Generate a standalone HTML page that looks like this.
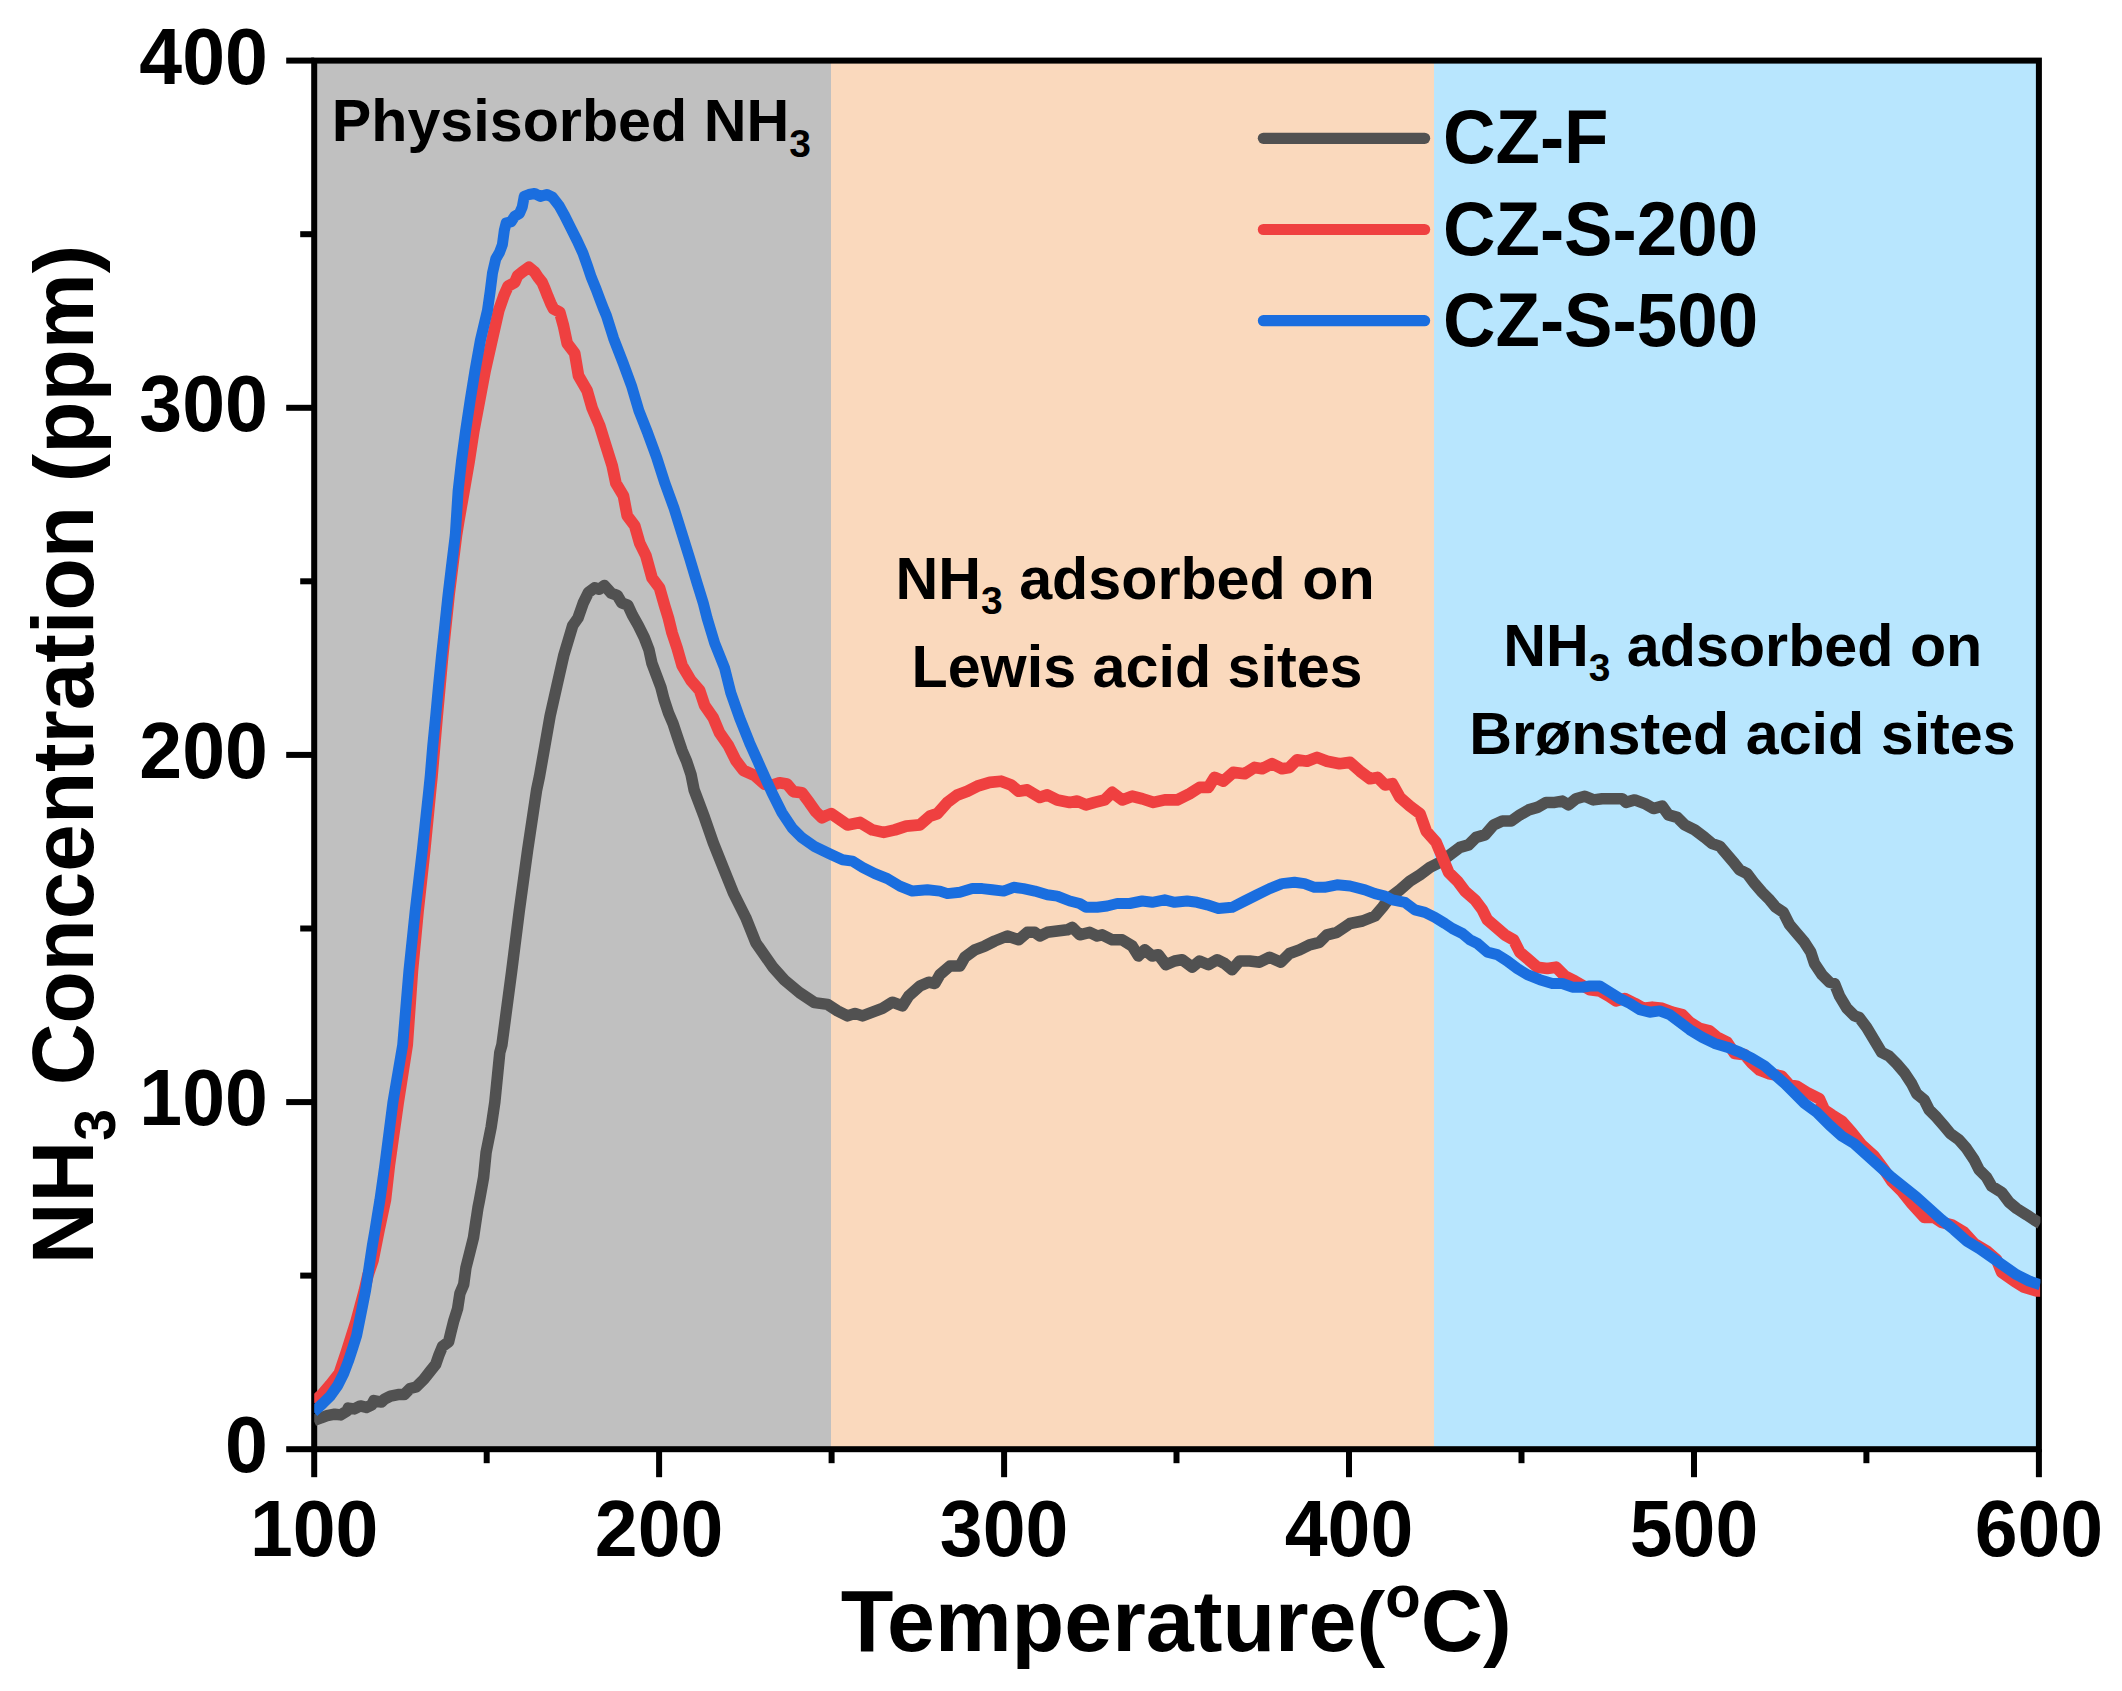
<!DOCTYPE html>
<html lang="en">
<head>
<meta charset="utf-8">
<title>NH3-TPD profiles</title>
<style>
html,body{margin:0;padding:0;background:#fff;}
body{width:2122px;height:1691px;overflow:hidden;}
svg{display:block;}
text{font-family:"Liberation Sans", sans-serif;font-weight:bold;fill:#000;}
.tick{font-size:77px;}
.title{font-size:86.2px;}
.leg{font-size:72.7px;}
.ann{font-size:59.25px;}
</style>
</head>
<body>
<svg width="2122" height="1691" viewBox="0 0 2122 1691">
<rect x="0" y="0" width="2122" height="1691" fill="#ffffff"/>
<defs><clipPath id="plot"><rect x="314.2" y="60.6" width="1726.2" height="1388.6"/></clipPath></defs>

<rect x="314.2" y="60.6" width="516.8" height="1388.6" fill="#c0c0c0"/>
<rect x="831.0" y="60.6" width="603.0" height="1388.6" fill="#fad9bd"/>
<rect x="1434.0" y="60.6" width="604.9" height="1388.6" fill="#b8e6fe"/>
<g stroke="#000" stroke-width="6" fill="none" stroke-linecap="butt">
<rect x="314.2" y="60.6" width="1724.7" height="1388.6"/>
<line x1="314.2" y1="1449.2" x2="314.2" y2="1477.2"/>
<line x1="486.7" y1="1449.2" x2="486.7" y2="1463.2"/>
<line x1="659.1" y1="1449.2" x2="659.1" y2="1477.2"/>
<line x1="831.6" y1="1449.2" x2="831.6" y2="1463.2"/>
<line x1="1004.1" y1="1449.2" x2="1004.1" y2="1477.2"/>
<line x1="1176.5" y1="1449.2" x2="1176.5" y2="1463.2"/>
<line x1="1349.0" y1="1449.2" x2="1349.0" y2="1477.2"/>
<line x1="1521.5" y1="1449.2" x2="1521.5" y2="1463.2"/>
<line x1="1694.0" y1="1449.2" x2="1694.0" y2="1477.2"/>
<line x1="1866.4" y1="1449.2" x2="1866.4" y2="1463.2"/>
<line x1="2038.9" y1="1449.2" x2="2038.9" y2="1477.2"/>
<line x1="314.2" y1="1449.2" x2="286.2" y2="1449.2"/>
<line x1="314.2" y1="1275.6" x2="300.2" y2="1275.6"/>
<line x1="314.2" y1="1102.1" x2="286.2" y2="1102.1"/>
<line x1="314.2" y1="928.5" x2="300.2" y2="928.5"/>
<line x1="314.2" y1="754.9" x2="286.2" y2="754.9"/>
<line x1="314.2" y1="581.3" x2="300.2" y2="581.3"/>
<line x1="314.2" y1="407.8" x2="286.2" y2="407.8"/>
<line x1="314.2" y1="234.2" x2="300.2" y2="234.2"/>
<line x1="314.2" y1="60.6" x2="286.2" y2="60.6"/>
</g>
<g clip-path="url(#plot)" fill="none" stroke-linejoin="round" stroke-linecap="butt">
<polyline points="313.5,1420.6 314.3,1420.2 321.1,1417.9 327.1,1415.7 334.7,1414.2 340.7,1414.9 346.8,1411.2 348.3,1408.1 354.3,1408.9 360.3,1405.9 366.4,1407.4 371.6,1405.1 373.9,1400.6 381.4,1402.1 384.5,1399.1 390.5,1396.1 398.0,1394.6 404.1,1394.6 410.1,1388.5 416.1,1387.0 423.7,1379.5 429.7,1371.9 435.7,1364.4 438.8,1355.4 442.5,1346.3 448.6,1341.8 450.8,1332.7 453.8,1320.7 457.6,1308.6 459.9,1293.5 463.7,1284.5 465.9,1267.9 469.7,1252.8 473.5,1237.7 475.7,1222.6 478.0,1207.5 479.5,1200.0 483.6,1177.4 486.1,1152.4 491.1,1127.4 494.8,1102.4 497.3,1077.5 499.8,1052.5 501.9,1044.9 511.7,971.0 519.3,910.7 527.6,850.3 536.6,790.0 539.5,776.3 544.8,746.2 550.1,716.0 556.9,685.8 563.7,655.7 568.2,640.6 572.7,625.5 578.0,618.0 583.3,602.9 588.5,592.3 594.6,587.8 599.1,589.3 604.4,585.5 611.2,593.1 617.2,595.3 621.7,602.9 627.8,605.1 632.3,614.9 638.3,625.5 644.3,637.6 648.9,649.6 651.9,663.2 656.4,675.3 660.9,687.3 664.0,699.4 668.5,713.0 673.0,723.5 677.5,737.1 682.1,750.7 686.6,761.2 691.1,774.8 694.1,789.9 704.6,817.8 713.3,842.8 723.3,867.8 733.3,892.7 745.8,917.7 755.8,942.7 773.3,967.7 784.5,980.1 799.5,992.6 814.5,1002.6 827.5,1004.4 837.5,1010.9 847.5,1015.9 855.0,1013.4 862.5,1015.9 872.4,1012.2 882.4,1008.4 892.4,1002.2 902.4,1005.9 908.7,996.0 919.9,986.0 928.6,982.2 934.9,983.5 939.9,974.7 949.9,966.0 959.9,966.0 964.9,957.2 974.8,949.8 984.8,946.0 994.8,941.0 1007.3,936.0 1018.6,939.8 1027.3,932.3 1034.8,932.3 1039.8,936.0 1047.3,932.3 1057.3,931.0 1067.3,929.8 1072.2,927.3 1079.7,934.8 1089.7,932.3 1097.2,936.0 1102.2,934.8 1112.2,939.8 1122.2,939.8 1132.2,946.0 1138.4,956.0 1144.7,949.8 1152.2,956.0 1158.4,954.7 1165.9,964.7 1174.6,961.0 1182.1,959.7 1192.1,967.2 1199.6,961.0 1208.4,964.7 1217.1,959.7 1224.6,963.5 1232.1,969.7 1239.6,961.0 1249.6,961.0 1259.6,962.2 1269.6,957.2 1280.8,962.2 1289.5,953.5 1299.5,949.8 1309.5,944.8 1319.5,942.3 1327.0,934.8 1337.0,932.3 1344.5,927.3 1350.0,923.5 1362.5,921.0 1375.0,916.0 1382.5,907.3 1390.0,897.3 1399.9,889.8 1409.9,881.1 1419.9,874.8 1429.9,867.3 1439.9,862.3 1449.9,854.8 1459.9,847.4 1468.6,844.9 1476.1,837.4 1484.9,834.9 1493.6,824.9 1502.3,821.1 1511.1,821.1 1519.8,814.9 1528.6,809.9 1537.3,807.4 1546.0,802.4 1554.8,802.4 1562.3,801.1 1568.5,804.9 1576.0,798.7 1584.8,796.2 1593.5,799.9 1602.2,798.7 1612.2,798.7 1622.2,798.7 1626.0,802.4 1634.7,799.9 1644.7,803.6 1653.4,808.6 1662.2,806.1 1668.4,814.9 1677.2,817.4 1684.7,824.9 1694.7,829.9 1704.6,837.4 1712.1,843.6 1719.6,846.1 1727.1,854.8 1734.6,863.6 1739.6,869.8 1747.1,873.6 1754.6,883.6 1762.1,892.3 1769.6,899.8 1775.8,907.3 1783.3,912.3 1789.6,924.8 1797.0,933.5 1804.5,942.3 1810.8,952.2 1814.5,963.5 1822.0,974.7 1829.5,982.2 1834.5,983.5 1839.5,996.0 1847.0,1008.4 1854.5,1015.9 1859.2,1017.5 1866.7,1027.5 1874.2,1040.0 1881.7,1052.4 1889.2,1056.2 1896.7,1063.7 1904.2,1072.4 1911.7,1083.7 1916.7,1093.7 1924.2,1099.9 1929.2,1109.9 1936.7,1117.4 1944.1,1126.1 1950.4,1133.6 1959.1,1139.9 1966.6,1148.6 1974.1,1159.8 1979.1,1169.8 1986.6,1177.3 1991.6,1186.1 2001.6,1192.3 2009.1,1202.3 2016.6,1208.5 2026.6,1214.8 2034.1,1219.8 2040.3,1223.5" stroke="#515151" stroke-width="11.5"/>
<polyline points="313.5,1402.5 314.3,1401.4 322.6,1393.8 330.2,1384.8 339.2,1373.5 346.8,1350.8 356.3,1320.7 364.4,1290.5 367.9,1275.4 373.0,1260.3 379.0,1230.2 385.4,1200.0 389.4,1164.9 398.2,1102.4 407.2,1044.9 412.4,971.0 418.1,910.7 424.7,850.3 430.6,790.0 432.0,776.3 437.2,716.0 442.7,655.7 449.0,595.3 456.5,535.0 458.7,521.3 464.0,491.2 469.2,461.0 473.8,430.8 479.5,400.7 485.2,370.5 492.0,340.3 498.8,310.2 504.1,295.1 508.1,286.2 514.7,282.5 517.6,275.8 522.3,272.0 528.9,267.3 534.6,272.0 538.4,277.7 542.2,282.5 545.0,289.1 547.9,296.6 550.7,303.3 553.5,308.9 559.7,312.1 563.5,325.9 567.2,343.4 574.7,353.3 578.5,375.8 587.2,390.8 592.2,408.3 599.7,425.8 605.9,445.8 612.2,465.7 615.9,483.2 623.4,495.7 627.2,515.7 634.7,525.7 639.7,543.2 645.9,555.6 652.1,578.1 659.6,588.1 664.6,605.6 668.4,618.0 672.1,633.0 677.1,648.0 682.1,665.5 690.9,680.4 699.6,690.4 704.6,705.4 713.3,717.9 719.6,732.9 728.3,745.4 735.8,760.4 743.3,770.3 754.5,775.3 764.5,784.1 772.0,785.3 779.5,782.8 787.0,784.1 793.3,791.6 802.0,792.8 809.5,802.8 815.7,811.6 822.0,817.8 827.0,815.3 831.2,813.6 847.5,824.9 860.0,822.4 872.4,829.9 883.7,832.4 894.9,829.9 906.2,826.1 919.9,824.9 929.9,816.1 937.4,813.6 947.4,802.4 957.4,794.9 967.4,791.2 977.3,786.2 989.8,782.4 1001.1,781.2 1011.1,784.9 1018.6,791.2 1027.3,789.9 1039.8,797.4 1047.3,794.9 1057.3,799.9 1069.8,802.4 1077.2,801.1 1086.0,804.9 1094.7,802.4 1104.7,799.9 1112.2,792.4 1122.2,799.9 1132.2,796.2 1142.2,798.7 1153.4,802.4 1164.7,799.9 1177.1,799.9 1189.6,793.7 1199.6,787.4 1208.4,787.4 1214.6,777.4 1223.3,781.2 1233.3,772.4 1244.6,773.7 1254.6,767.4 1262.1,768.7 1272.0,763.7 1282.0,768.7 1289.5,767.4 1297.0,759.9 1307.0,761.2 1317.0,757.4 1327.0,761.2 1339.5,763.7 1350.0,762.4 1360.0,771.2 1370.0,778.7 1377.5,777.4 1385.0,784.9 1392.4,783.7 1399.9,797.4 1409.9,806.1 1419.9,813.6 1426.2,831.1 1436.2,842.4 1442.4,857.3 1448.6,872.3 1457.4,881.1 1464.9,891.1 1474.9,899.8 1482.4,909.8 1487.4,919.8 1496.1,927.3 1504.8,934.8 1513.6,939.8 1519.8,952.2 1527.3,958.5 1537.3,967.2 1547.3,968.5 1556.0,967.2 1564.8,976.0 1574.8,981.0 1583.5,986.0 1589.8,989.7 1599.7,991.0 1608.5,996.0 1616.0,1001.0 1624.7,998.5 1634.7,1003.4 1643.4,1008.4 1652.2,1007.2 1662.2,1008.4 1672.2,1012.2 1682.2,1014.7 1689.7,1022.2 1699.6,1028.4 1709.6,1030.9 1717.1,1037.2 1727.1,1042.2 1734.6,1053.4 1744.6,1054.6 1752.1,1063.4 1759.6,1070.1 1769.3,1073.7 1781.8,1076.2 1789.3,1084.9 1796.8,1086.2 1806.8,1092.4 1819.3,1098.7 1824.3,1109.9 1831.8,1114.9 1841.8,1121.1 1851.7,1132.4 1861.7,1144.9 1874.2,1156.1 1884.2,1169.8 1891.7,1181.1 1901.7,1191.1 1911.7,1203.5 1924.2,1217.3 1934.2,1217.3 1941.7,1222.3 1951.6,1224.8 1964.1,1232.3 1974.1,1243.5 1986.6,1251.0 1996.6,1259.7 2001.6,1272.2 2014.1,1281.0 2024.1,1287.2 2036.6,1291.0 2040.3,1291.0" stroke="#ef4040" stroke-width="11.7"/>
<polyline points="313.5,1412.0 314.3,1411.2 322.6,1403.6 330.2,1396.1 337.7,1385.5 343.7,1373.5 348.3,1361.4 352.8,1347.8 356.6,1335.7 359.6,1320.7 362.6,1305.6 365.6,1290.5 367.9,1275.4 370.1,1260.3 372.4,1245.2 375.0,1230.2 377.4,1215.1 379.9,1200.0 384.9,1164.9 392.9,1102.4 402.7,1044.9 408.9,971.0 415.2,910.7 422.3,850.3 428.8,790.0 430.2,776.3 432.7,746.2 435.7,716.0 438.5,685.8 441.5,655.7 444.8,625.5 448.0,595.3 451.6,565.2 455.3,535.0 458.1,491.2 461.5,461.0 465.6,430.8 470.1,400.7 475.0,370.5 480.4,340.3 487.5,310.2 490.1,291.9 492.5,273.0 495.8,258.8 499.6,252.2 502.4,244.6 504.3,230.4 506.2,222.8 511.0,221.9 514.7,216.2 519.5,213.4 522.3,206.8 524.2,196.4 528.9,194.5 534.6,193.5 540.3,196.4 546.9,194.5 552.6,197.3 559.2,205.8 563.9,214.3 570.6,227.6 577.2,240.8 582.9,253.1 587.6,266.4 591.4,277.7 596.1,289.1 600.3,300.4 604.0,309.9 606.5,315.9 613.6,338.4 623.2,363.3 631.5,385.8 638.9,410.8 647.8,433.3 656.9,458.2 664.9,483.2 674.0,508.2 681.8,533.2 689.6,558.1 697.1,583.1 703.3,603.1 707.1,618.1 714.6,643.0 724.6,668.0 730.8,692.9 739.6,717.9 749.6,742.9 760.8,767.9 772.0,792.8 782.0,812.8 792.0,827.8 802.0,837.8 814.5,846.5 830.0,854.0 842.5,859.8 852.5,861.1 862.5,867.3 874.9,873.6 887.4,878.6 899.9,886.1 912.4,891.1 927.4,889.8 939.9,891.1 947.4,893.6 959.9,892.3 972.3,888.6 982.3,888.6 992.3,889.8 1003.6,891.1 1013.6,887.3 1023.5,888.6 1034.8,891.1 1047.3,894.8 1057.3,896.1 1069.8,901.0 1079.7,903.5 1086.0,907.3 1097.2,907.3 1107.2,906.0 1117.2,903.5 1129.7,903.5 1142.2,901.0 1152.2,902.3 1164.7,899.8 1174.6,902.3 1187.1,901.0 1197.1,902.3 1207.1,904.8 1218.4,908.5 1232.1,907.3 1244.6,901.0 1257.1,894.8 1269.6,888.6 1282.0,883.6 1294.5,882.3 1304.5,883.6 1314.5,887.3 1324.5,887.3 1337.0,884.8 1350.0,886.0 1365.0,889.8 1375.0,893.6 1385.0,896.1 1392.4,899.8 1404.9,902.3 1414.9,909.8 1424.9,912.3 1434.9,917.3 1444.9,923.5 1452.4,928.5 1462.4,933.5 1469.9,939.8 1477.4,943.5 1487.4,952.2 1497.3,954.7 1507.3,961.0 1517.3,968.5 1527.3,974.7 1539.8,979.7 1552.3,983.5 1562.3,983.5 1572.3,987.2 1582.3,987.2 1589.8,986.0 1599.7,986.0 1609.7,992.2 1619.7,998.5 1629.7,1003.4 1639.7,1009.7 1649.7,1012.2 1659.7,1010.9 1669.7,1014.7 1679.7,1022.2 1689.7,1029.7 1702.1,1037.2 1714.6,1043.4 1727.1,1047.2 1739.6,1052.1 1752.1,1058.4 1764.6,1065.9 1774.6,1074.6 1784.6,1083.4 1794.6,1093.4 1804.5,1103.3 1816.8,1112.4 1829.3,1124.9 1841.8,1136.1 1854.2,1143.6 1866.7,1154.8 1879.2,1166.1 1891.7,1177.3 1904.2,1187.3 1916.7,1197.3 1929.2,1208.5 1941.7,1219.8 1954.1,1229.8 1966.6,1241.0 1979.1,1248.5 1991.6,1257.2 2004.1,1266.0 2016.6,1274.7 2029.1,1281.0 2040.3,1284.7" stroke="#1a6edf" stroke-width="11"/>
</g>
<text class="tick" transform="translate(314.2,1555.6) scale(1,1.04)" text-anchor="middle">100</text>
<text class="tick" transform="translate(659.1,1555.6) scale(1,1.04)" text-anchor="middle">200</text>
<text class="tick" transform="translate(1004.1,1555.6) scale(1,1.04)" text-anchor="middle">300</text>
<text class="tick" transform="translate(1349.0,1555.6) scale(1,1.04)" text-anchor="middle">400</text>
<text class="tick" transform="translate(1694.0,1555.6) scale(1,1.04)" text-anchor="middle">500</text>
<text class="tick" transform="translate(2038.9,1555.6) scale(1,1.04)" text-anchor="middle">600</text>
<text class="tick" transform="translate(267.8,1472.4) scale(1,1.04)" text-anchor="end">0</text>
<text class="tick" transform="translate(267.8,1125.3) scale(1,1.04)" text-anchor="end">100</text>
<text class="tick" transform="translate(267.8,778.1) scale(1,1.04)" text-anchor="end">200</text>
<text class="tick" transform="translate(267.8,430.9) scale(1,1.04)" text-anchor="end">300</text>
<text class="tick" transform="translate(267.8,83.8) scale(1,1.04)" text-anchor="end">400</text>
<text class="title" transform="translate(1176.2,1651) scale(1,1.01)" x="-335.42" y="0">Temperature</text>
<text class="title" transform="translate(1176.2,1651) scale(1,0.97)" x="180.32" y="0">(</text>
<text class="title" transform="translate(1176.2,1651) scale(1,1.01)" x="209.04" y="0"><tspan font-size="58" dy="-34">o</tspan><tspan dy="34">C</tspan></text>
<text class="title" transform="translate(1176.2,1651) scale(1,0.97)" x="306.7" y="0">)</text>
<text class="title" style="font-size:85.5px" transform="translate(92.6,754.5) rotate(-90) scale(1,1.01)" x="-509.77" y="0">NH<tspan font-size="57" dy="22.3">3</tspan><tspan dy="-22.3"> Concentration</tspan></text>
<text class="title" style="font-size:85.5px" transform="translate(92.6,754.5) rotate(-90) scale(1,0.97)" x="272.37" y="0">(</text>
<text class="title" style="font-size:85.5px" transform="translate(92.6,754.5) rotate(-90) scale(1,1.01)" x="300.85" y="0">ppm</text>
<text class="title" style="font-size:85.5px" transform="translate(92.6,754.5) rotate(-90) scale(1,0.97)" x="481.3" y="0">)</text>
<line x1="1263.4" y1="138.3" x2="1424.6" y2="138.3" stroke="#515151" stroke-width="11.2" stroke-linecap="round"/>
<text class="leg" transform="translate(1443.0,163.2) scale(1,1.04)" text-anchor="start">CZ-F</text>
<line x1="1263.4" y1="229.5" x2="1424.6" y2="229.5" stroke="#ef4040" stroke-width="11.2" stroke-linecap="round"/>
<text class="leg" transform="translate(1443.0,254.5) scale(1,1.04)" text-anchor="start">CZ-S-200</text>
<line x1="1263.4" y1="320.7" x2="1424.6" y2="320.7" stroke="#1a6edf" stroke-width="11.2" stroke-linecap="round"/>
<text class="leg" transform="translate(1443.0,345.8) scale(1,1.04)" text-anchor="start">CZ-S-500</text>
<text class="ann" transform="translate(331.7,141.2) scale(1,1.01)" text-anchor="start">Physisorbed NH<tspan font-size="39" dy="15.2">3</tspan></text>
<text class="ann" transform="translate(1135,599.1) scale(1,1.01)" text-anchor="middle">NH<tspan font-size="39" dy="15.2">3</tspan><tspan dy="-15.2"> adsorbed on</tspan></text>
<text class="ann" transform="translate(1137.0,687) scale(1,1.01)" text-anchor="middle">Lewis acid sites</text>
<text class="ann" transform="translate(1742.7,665.8) scale(1,1.01)" text-anchor="middle">NH<tspan font-size="39" dy="15.2">3</tspan><tspan dy="-15.2"> adsorbed on</tspan></text>
<text class="ann" transform="translate(1742.5,754) scale(1,1.01)" text-anchor="middle">Brønsted acid sites</text>
</svg>
</body>
</html>
